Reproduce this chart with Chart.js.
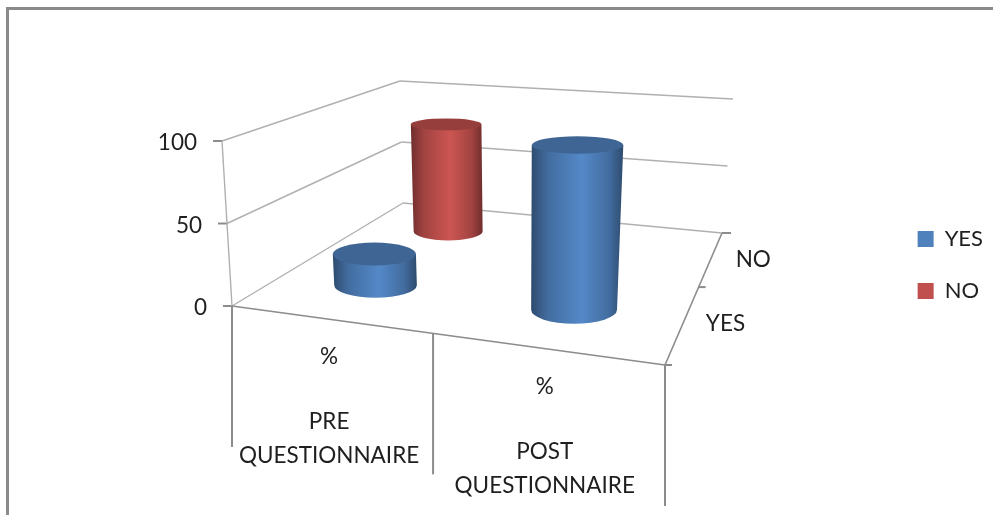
<!DOCTYPE html>
<html>
<head>
<meta charset="utf-8">
<style>
  html, body { margin: 0; padding: 0; background: #fff; }
  #wrap { position: relative; width: 993px; height: 515px; overflow: hidden; }
</style>
<script src="https://cdn.jsdelivr.net/npm/chart.js@4"></script>
</head>
<body>
<div id="wrap"><canvas id="myChart" width="993" height="515"></canvas></div>
<script>
var categories = [['PRE', 'QUESTIONNAIRE'], ['POST', 'QUESTIONNAIRE']];
var subLabels = ['%', '%'];
var seriesNames = ['YES', 'NO'];
var yesValues = [20, 100];
var noValues = [80, 0];
var valueTicks = [0, 50, 100];
var seriesColors = ['#4f81bd', '#c0504d'];

// corners of the box on screen: front-left, front-right, back-right, back-left
var floorQuad = [[232, 306], [665, 365], [722, 233], [403, 203]];
var roofQuad = [[222, 141], [677, 180], [733, 99], [400, 81]];
var radiusU = 0.097, radiusW = 0.118;
var ellipseFlatten = 0.8;
var labelFont = '22.5px Lato, Carlito, sans-serif';

// unit square -> quad
function makeHomography(q) {
  var dx1 = q[1][0] - q[2][0], dx2 = q[3][0] - q[2][0], sx = q[0][0] - q[1][0] + q[2][0] - q[3][0];
  var dy1 = q[1][1] - q[2][1], dy2 = q[3][1] - q[2][1], sy = q[0][1] - q[1][1] + q[2][1] - q[3][1];
  var d = dx1 * dy2 - dx2 * dy1;
  var g = (sx * dy2 - dx2 * sy) / d, h = (dx1 * sy - sx * dy1) / d;
  var a = q[1][0] - q[0][0] + g * q[1][0], b = q[3][0] - q[0][0] + h * q[3][0];
  var e = q[1][1] - q[0][1] + g * q[1][1], f = q[3][1] - q[0][1] + h * q[3][1];
  return function (u, w) {
    var z = g * u + h * w + 1;
    return [(a * u + b * w + q[0][0]) / z, (e * u + f * w + q[0][1]) / z];
  };
}
var floorAt = makeHomography(floorQuad);
var roofAt = makeHomography(roofQuad);

// u along categories, w along series depth, v height, all 0..1
function project(u, w, v) {
  var p = floorAt(u, w), r = roofAt(u, w);
  return [p[0] + (r[0] - p[0]) * v, p[1] + (r[1] - p[1]) * v];
}

function fracX(scale, value) {
  return (scale.getPixelForValue(value) - scale.left) / scale.width;
}
function fracY(scale, value) {
  return (scale.bottom - scale.getPixelForValue(value)) / scale.height;
}

function shade(hex, f) {
  var n = parseInt(hex.slice(1), 16);
  var c = [n >> 16, (n >> 8) & 255, n & 255].map(function (x) {
    return Math.min(255, Math.round(x * f));
  });
  return 'rgb(' + c.join(',') + ')';
}

// level ellipse around the projected disc at height v
function discAt(u, w, v) {
  var minX = Infinity, maxX = -Infinity, minY = Infinity, maxY = -Infinity;
  for (var i = 0; i < 72; i++) {
    var t = i / 72 * Math.PI * 2;
    var p = project(u + radiusU * Math.cos(t), w + radiusW * Math.sin(t), v);
    minX = Math.min(minX, p[0]); maxX = Math.max(maxX, p[0]);
    minY = Math.min(minY, p[1]); maxY = Math.max(maxY, p[1]);
  }
  return {
    cx: (minX + maxX) / 2,
    cy: (minY + maxY) / 2,
    rx: (maxX - minX) / 2,
    ry: (maxY - minY) / 2 * ellipseFlatten
  };
}

function drawCylinder(ctx, u, w, v, color) {
  var base = discAt(u, w, 0), lid = discAt(u, w, v);
  var left = Math.min(base.cx - base.rx, lid.cx - lid.rx);
  var right = Math.max(base.cx + base.rx, lid.cx + lid.rx);

  var grad = ctx.createLinearGradient(left, 0, right, 0);
  grad.addColorStop(0, shade(color, 0.58));
  grad.addColorStop(0.18, shade(color, 0.84));
  grad.addColorStop(0.55, shade(color, 1.06));
  grad.addColorStop(0.85, shade(color, 0.84));
  grad.addColorStop(1, shade(color, 0.58));

  // body: down the left side, round the near half of the base, back up the right
  ctx.beginPath();
  ctx.moveTo(lid.cx - lid.rx, lid.cy);
  ctx.lineTo(base.cx - base.rx, base.cy);
  ctx.ellipse(base.cx, base.cy, base.rx, base.ry, 0, Math.PI, 0, true);
  ctx.lineTo(lid.cx + lid.rx, lid.cy);
  ctx.closePath();
  ctx.fillStyle = grad;
  ctx.fill();

  // lid
  ctx.beginPath();
  ctx.ellipse(lid.cx, lid.cy, lid.rx, lid.ry, 0, 0, Math.PI * 2);
  ctx.fillStyle = shade(color, 0.78);
  ctx.fill();
}

class Cylinder3D extends Chart.BarController {
  draw() {
    var chart = this.chart, ctx = chart.ctx;
    var ds = this.getDataset();
    var xs = chart.scales.x, ys = chart.scales.y, zs = chart.scales.z;
    var w = fracX(zs, this.index);
    ctx.save();
    ds.data.forEach(function (val, i) {
      if (val > 0) drawCylinder(ctx, fracX(xs, i), w, fracY(ys, val), ds.backgroundColor);
    });
    ctx.restore();
  }
}
Cylinder3D.id = 'cylinder3d';
Cylinder3D.defaults = Chart.BarController.defaults;
Cylinder3D.overrides = Chart.BarController.overrides;
Chart.register(Cylinder3D);

function line(ctx, a, b, color, width) {
  ctx.beginPath();
  ctx.moveTo(a[0], a[1]);
  ctx.lineTo(b[0], b[1]);
  ctx.strokeStyle = color;
  ctx.lineWidth = width;
  ctx.stroke();
}

// walls, floor, ticks and labels of the 3D box
var boxPlugin = {
  id: 'box3d',
  beforeDatasetsDraw: function (chart) {
    var ctx = chart.ctx;
    var xs = chart.scales.x, ys = chart.scales.y, zs = chart.scales.z;
    var light = '#b0b0b0', dark = '#8c8c8c';
    ctx.save();

    // page frame
    ctx.fillStyle = '#8a8a8a';
    ctx.fillRect(6, 7, 987, 3);
    ctx.fillRect(6, 7, 3, 508);

    // horizontal grid on the side and back walls, tick and number on the axis
    ctx.font = labelFont;
    ctx.fillStyle = '#1f1f1f';
    ctx.textAlign = 'right';
    ctx.textBaseline = 'middle';
    valueTicks.forEach(function (t) {
      var v = fracY(ys, t);
      var a = project(0, 0, v), b = project(0, 1, v), c = project(1, 1, v);
      line(ctx, a, b, light, 1.4);
      line(ctx, b, c, light, 1.4);
      line(ctx, [a[0] - 9, a[1]], a, dark, 2);
      ctx.fillText(String(t), a[0] - 25, a[1] + 2);
    });
    line(ctx, project(0, 0, 0), project(0, 0, 1), light, 1.4);

    // depth axis on the right of the floor
    ctx.textAlign = 'center';
    line(ctx, project(1, 0, 0), project(1, 1, 0), dark, 1.6);
    seriesNames.forEach(function (name, i) {
      var edge = project(1, fracX(zs, i - 0.5), 0);
      line(ctx, edge, [edge[0] + 7, edge[1]], dark, 2);
      var mid = project(1, fracX(zs, i), 0);
      ctx.fillText(name, mid[0] + 42, mid[1] + 2);
    });
    var far = project(1, 1, 0);
    line(ctx, far, [far[0] + 9, far[1]], dark, 2);

    // front edge with the long dividers between the categories
    line(ctx, project(0, 0, 0), project(1, 0, 0), dark, 1.6);
    for (var i = 0; i <= categories.length; i++) {
      var p = project(fracX(xs, i - 0.5), 0, 0);
      line(ctx, p, [p[0], p[1] + 141], dark, 2);
    }
    categories.forEach(function (lines, i) {
      var c = project(fracX(xs, i), 0, 0);
      ctx.fillText(subLabels[i], c[0], c[1] + 38);
      lines.forEach(function (text, k) {
        ctx.fillText(text, c[0], c[1] + 103 + k * 34);
      });
    });
    ctx.restore();
  }
};

var ctx = document.getElementById('myChart').getContext('2d');
var myChart = new Chart(ctx, {
  type: 'cylinder3d',
  data: {
    labels: categories,
    datasets: [
      { label: seriesNames[0], data: yesValues, backgroundColor: seriesColors[0], clip: false },
      { label: seriesNames[1], data: noValues, backgroundColor: seriesColors[1], clip: false }
    ]
  },
  options: {
    responsive: false,
    animation: false,
    layout: { padding: { top: 15, right: 0 } },
    scales: {
      x: { type: 'category', display: false, offset: true, grid: { offset: true } },
      z: { type: 'category', axis: 'x', display: false, offset: true, labels: seriesNames },
      y: { type: 'linear', display: false, min: 0, max: 100, ticks: { stepSize: 50 } }
    },
    plugins: {
      legend: {
        position: 'right',
        labels: {
          boxWidth: 16,
          boxHeight: 16,
          padding: 30,
          color: '#1f1f1f',
          font: { family: 'Lato, Carlito, sans-serif', size: 22 }
        }
      },
      tooltip: { enabled: false }
    }
  },
  plugins: [boxPlugin]
});
</script>
</body>
</html>
